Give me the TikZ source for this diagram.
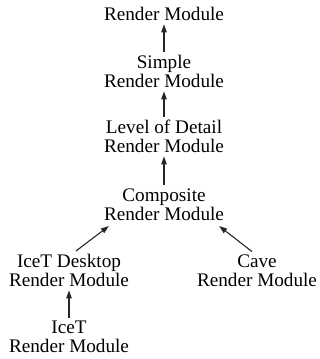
\documentclass[tikz,border=0pt]{standalone}
\usepackage{fontspec}
\setmainfont{Liberation Serif}
\usetikzlibrary{arrows.meta, positioning}

\begin{document}
\begin{tikzpicture}[
  x=1pt, y=1pt,
  mbox/.style={align=center, inner sep=3pt, anchor=base, font=\fontsize{19.2}{19.5}\selectfont},
  arr/.style={-{Triangle[length=8pt, width=5.5pt]}, line width=1.1pt, black!85}
]
  \useasboundingbox (0,0) rectangle (320,359);
  \node[mbox] (render) at (164,338) {Render Module};
  \node[mbox] (simple) at (164,271) {Simple\\Render Module};
  \node[mbox] (lod) at (164,206) {Level of Detail\\Render Module};
  \node[mbox] (comp) at (164,138.3) {Composite\\Render Module};
  \node[mbox] (icetd) at (69,72) {IceT Desktop\\Render Module};
  \node[mbox] (cave) at (257,72) {Cave\\Render Module};
  \node[mbox] (icet) at (69,6) {IceT\\Render Module};

  \draw[arr] (simple.north) -- (render.south);
  \draw[arr] (lod.north) -- (simple.south);
  \draw[arr] (comp.north) -- (lod.south);
  \draw[arr] ([xshift=7pt]icetd.north) -- ([xshift=8pt,yshift=-2pt]comp.south west);
  \draw[arr] ([xshift=-5pt]cave.north) -- ([xshift=-8pt,yshift=-2pt]comp.south east);
  \draw[arr] (icet.north) -- (icetd.south);
\end{tikzpicture}
\end{document}
